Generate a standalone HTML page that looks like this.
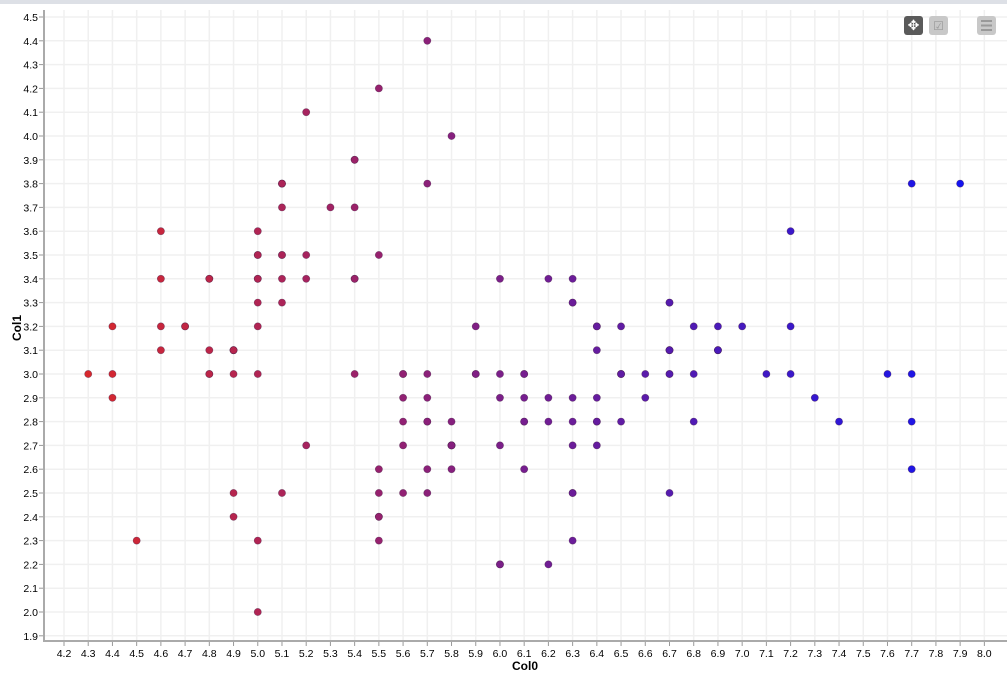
<!DOCTYPE html>
<html><head><meta charset="utf-8"><style>
html,body{margin:0;padding:0;background:#fff;}
svg{display:block;font-family:"Liberation Sans",sans-serif;}
</style></head><body>
<svg id="chart" width="1007" height="685">
<rect x="0" y="0" width="1007" height="4" fill="#dde0e6"/>
<g id="grid"></g><g id="axes"></g><g id="pts"></g>
<text x="525" y="670" text-anchor="middle" font-size="12" font-weight="bold">Col0</text>
<text x="21" y="328" text-anchor="middle" font-size="12" font-weight="bold" transform="rotate(-90 21 328)">Col1</text>
<g><rect x="904" y="16" width="19" height="19" rx="3" fill="#5a5a5a"/><text x="913.5" y="30" text-anchor="middle" font-size="14" fill="#fff">✥</text></g>
<g><rect x="929" y="16" width="19" height="19" rx="3" fill="#c8c8c8"/><text x="938.5" y="30" text-anchor="middle" font-size="12" fill="#999">☑</text></g>
<g><rect x="977" y="16" width="19" height="19" rx="3" fill="#c8c8c8"/><path d="M981 21h11M981 25.5h11M981 30h11" stroke="#999" stroke-width="2"/></g>
</svg>
<script>
const xs=[5.1,4.9,4.7,4.6,5.0,5.4,4.6,5.0,4.4,4.9,5.4,4.8,4.8,4.3,5.8,5.7,5.4,5.1,5.7,5.1,5.4,5.1,4.6,5.1,4.8,5.0,5.0,5.2,5.2,4.7,4.8,5.4,5.2,5.5,4.9,5.0,5.5,4.9,4.4,5.1,5.0,4.5,4.4,5.0,5.1,4.8,5.1,4.6,5.3,5.0,
7.0,6.4,6.9,5.5,6.5,5.7,6.3,4.9,6.6,5.2,5.0,5.9,6.0,6.1,5.6,6.7,5.6,5.8,6.2,5.6,5.9,6.1,6.3,6.1,6.4,6.6,6.8,6.7,6.0,5.7,5.5,5.5,5.8,6.0,5.4,6.0,6.7,6.3,5.6,5.5,5.5,6.1,5.8,5.0,5.6,5.7,5.7,6.2,5.1,5.7,
6.3,5.8,7.1,6.3,6.5,7.6,4.9,7.3,6.7,7.2,6.5,6.4,6.8,5.7,5.8,6.4,6.5,7.7,7.7,6.0,6.9,5.6,7.7,6.3,6.7,7.2,6.2,6.1,6.4,7.2,7.4,7.9,6.4,6.3,6.1,7.7,6.3,6.4,6.0,6.9,6.7,6.9,5.8,6.8,6.7,6.7,6.3,6.5,6.2,5.9];
const ys=[3.5,3.0,3.2,3.1,3.6,3.9,3.4,3.4,2.9,3.1,3.7,3.4,3.0,3.0,4.0,4.4,3.9,3.5,3.8,3.8,3.4,3.7,3.6,3.3,3.4,3.0,3.4,3.5,3.4,3.2,3.1,3.4,4.1,4.2,3.1,3.2,3.5,3.1,3.0,3.4,3.5,2.3,3.2,3.5,3.8,3.0,3.8,3.2,3.7,3.3,
3.2,3.2,3.1,2.3,2.8,2.8,3.3,2.4,2.9,2.7,2.0,3.0,2.2,2.9,2.9,3.1,3.0,2.7,2.2,2.5,3.2,2.8,2.5,2.8,2.9,3.0,2.8,3.0,2.9,2.6,2.4,2.4,2.7,2.7,3.0,3.4,3.1,2.3,3.0,2.5,2.6,3.0,2.6,2.3,2.7,3.0,2.9,2.9,2.5,2.8,
3.3,2.7,3.0,2.9,3.0,3.0,2.5,2.9,2.5,3.6,3.2,2.7,3.0,2.5,2.8,3.2,3.0,3.8,2.6,2.2,3.2,2.8,2.8,2.7,3.3,3.2,2.8,3.0,2.8,3.0,2.8,3.8,2.8,2.8,2.6,3.0,3.4,3.1,3.0,3.1,3.1,3.1,2.7,3.2,3.3,3.0,2.5,3.0,3.4,3.0];
const xTicks=[4.2,4.3,4.4,4.5,4.6,4.7,4.8,4.9,5.0,5.1,5.2,5.3,5.4,5.5,5.6,5.7,5.8,5.9,6.0,6.1,6.2,6.3,6.4,6.5,6.6,6.7,6.8,6.9,7.0,7.1,7.2,7.3,7.4,7.5,7.6,7.7,7.8,7.9,8.0];
const yTicks=[1.9,2.0,2.1,2.2,2.3,2.4,2.5,2.6,2.7,2.8,2.9,3.0,3.1,3.2,3.3,3.4,3.5,3.6,3.7,3.8,3.9,4.0,4.1,4.2,4.3,4.4,4.5];
const X=v=>64+(v-4.2)*242.2;
const Y=v=>17+(4.5-v)*238;
const NS="http://www.w3.org/2000/svg";
const g=document.getElementById('grid'),a=document.getElementById('axes'),p=document.getElementById('pts');
function mk(par,t,at){const e=document.createElementNS(NS,t);for(const k in at)e.setAttribute(k,at[k]);par.appendChild(e);return e;}
xTicks.forEach(t=>{const x=X(t);
const l=mk(g,'line',{x1:x,x2:x,y1:10,y2:641,stroke:'#f0f0f0','stroke-width':1.5});


mk(a,'line',{x1:x,x2:x,y1:641,y2:646,stroke:'#999'});
const tx=mk(a,'text',{x:x,y:657,'text-anchor':'middle','font-size':10.5});tx.textContent=t.toFixed(1);

});
yTicks.forEach(t=>{const y=Y(t);
const l=mk(g,'line',{x1:44,x2:1007,y1:y,y2:y,stroke:'#f0f0f0','stroke-width':1.5});


mk(a,'line',{x1:39,x2:44,y1:y,y2:y,stroke:'#999'});
const tx=mk(a,'text',{x:38,y:y+4,'text-anchor':'end','font-size':10.5});tx.textContent=t.toFixed(1);

});
const ax=mk(a,'path',{d:'M44 10V641H1007',fill:'none',stroke:'#aaa','stroke-width':2});


xs.forEach((v,i)=>{const f=Math.max(0,Math.min(1,(v-4.3)/3.6));
const r=Math.round(215-195*f),gg=Math.round(40-20*f),b=Math.round(45+195*f);
const c=mk(p,'circle',{cx:X(v),cy:Y(ys[i]),r:3.6,fill:`rgb(${r},${gg},${b})`,stroke:`rgba(60,20,60,0.5)`,'stroke-width':0.6});

});
</script>
</body></html>
